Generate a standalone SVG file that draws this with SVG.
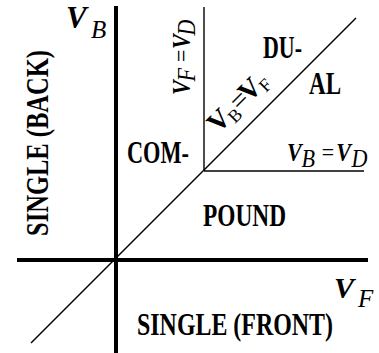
<svg xmlns="http://www.w3.org/2000/svg" width="379" height="353" viewBox="0 0 379 353">
<style>
text{font-family:"Liberation Serif","Times New Roman",serif;fill:#000}
.lbl{font-size:24px;font-weight:bold}
.bi{font-style:italic;font-weight:bold}
.it{font-style:italic;font-weight:normal}
.axis{stroke:#000;stroke-width:4;fill:none}
.thin{stroke:#000;stroke-width:1.4;fill:none}
</style>
<rect width="379" height="353" fill="#fff"/>
<g id="connectors">
<line class="axis" x1="116" y1="6" x2="116" y2="353"/>
<line class="axis" x1="17" y1="260" x2="368" y2="260"/>
<line class="thin" x1="31" y1="343" x2="356" y2="18"/>
<line class="thin" x1="204" y1="7" x2="204" y2="171"/>
<line class="thin" x1="204" y1="171" x2="364" y2="171"/>
</g>
<g id="axis-vb">
<text font-size="31"><tspan class="bi" x="66" y="28">V</tspan><tspan class="it" font-size="25" x="91" y="38">B</tspan></text>
</g>
<g id="axis-vf">
<text font-size="30"><tspan class="bi" x="334" y="298">V</tspan><tspan class="it" font-size="25" x="358" y="307">F</tspan></text>
</g>
<g id="single-back">
<text class="lbl" transform="translate(48,236) rotate(-90) scale(1,1.28)" textLength="186" lengthAdjust="spacingAndGlyphs">SINGLE (BACK)</text>
</g>
<g id="single-front">
<text class="lbl" transform="translate(137,335) scale(1,1.3)" textLength="196" lengthAdjust="spacingAndGlyphs">SINGLE (FRONT)</text>
</g>
<g id="compound">
<text class="lbl" transform="translate(127,163) scale(1,1.33)" textLength="62" lengthAdjust="spacingAndGlyphs">COM-</text>
<text class="lbl" transform="translate(203,226) scale(1,1.3)" textLength="83" lengthAdjust="spacingAndGlyphs">POUND</text>
</g>
<g id="dual">
<text class="lbl" transform="translate(263,58) scale(1,1.33)" textLength="39" lengthAdjust="spacingAndGlyphs">DU-</text>
<text class="lbl" transform="translate(309,94) scale(1,1.33)" textLength="32" lengthAdjust="spacingAndGlyphs">AL</text>
</g>
<g id="vf-vd">
<text transform="translate(190,95) rotate(-90) scale(0.85,1)" font-size="26"><tspan class="bi" x="0" y="0">V</tspan><tspan class="it" x="16" y="5">F</tspan><tspan class="it" x="37" y="0">=</tspan><tspan class="bi" x="54" y="0">V</tspan><tspan class="it" x="70" y="5">D</tspan></text>
</g>
<g id="vb-vd">
<text transform="translate(287,161) scale(0.85,1)" font-size="26"><tspan class="bi" x="0" y="0">V</tspan><tspan class="it" x="17" y="6">B</tspan><tspan class="it" x="39" y="0">=</tspan><tspan class="bi" x="58" y="0">V</tspan><tspan class="it" x="76" y="6">D</tspan></text>
</g>
<g id="vb-vf">
<text transform="translate(218,134) rotate(-45)" font-size="28"><tspan font-weight="bold" x="0" y="0">V</tspan><tspan font-size="18" x="19" y="5">B</tspan><tspan x="31" y="0">=</tspan><tspan font-weight="bold" x="44" y="0">V</tspan><tspan font-size="18" x="63" y="5">F</tspan></text>
</g>
</svg>
